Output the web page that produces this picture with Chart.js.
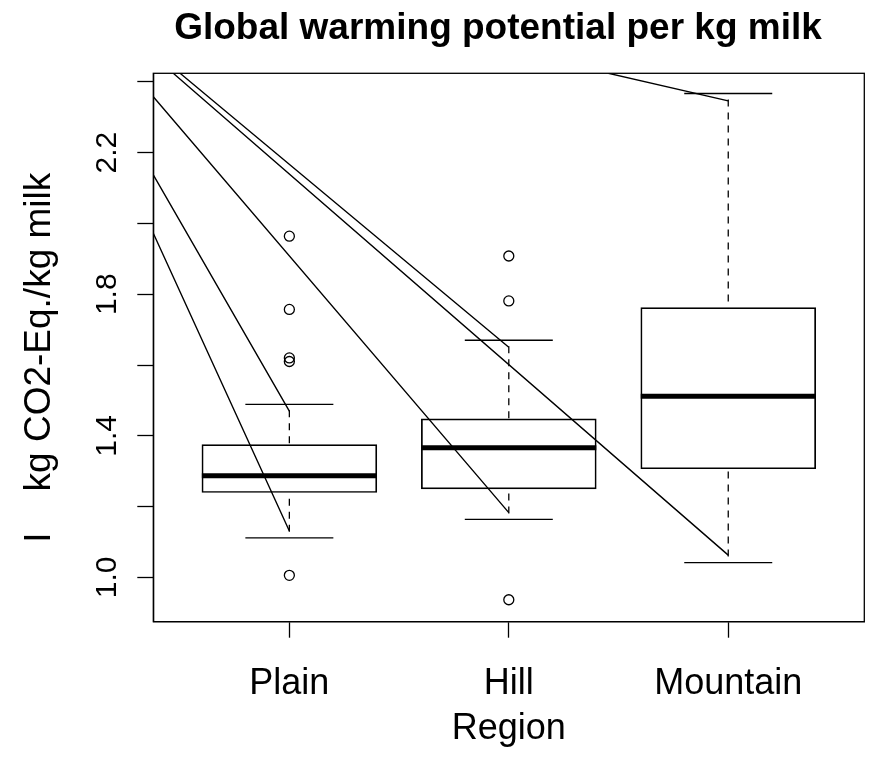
<!DOCTYPE html>
<html>
<head>
<meta charset="utf-8">
<script src="https://cdn.jsdelivr.net/npm/chart.js@4.4.1/dist/chart.umd.min.js"></script>
<style>
html,body{margin:0;padding:0;background:#ffffff;}
canvas{display:block;}
</style>
</head>
<body>
<canvas id="chart" width="869" height="761"></canvas>
<script>
// ---- data ----
const categories = ['Plain', 'Hill', 'Mountain'];
const q1 = [1.239, 1.249, 1.306];
const medians = [1.287, 1.366, 1.512];
const q3 = [1.376, 1.449, 1.763];
const whiskerLow = [1.112, 1.164, 1.042];
const whiskerHigh = [1.489, 1.670, 2.367];
const outliersPlain = [1.964, 1.757, 1.620, 1.610, 1.006];
const outliersHill = [1.908, 1.781, 0.937];
const outliersMountain = [];
const yTickLabels = ['1.0', '', '1.4', '', '1.8', '', '2.2', ''];
const xLimits = [0.38, 3.62];
const yLimits = [0.875, 2.424];
// straight segments overlaid on the plot (start / end in data units)
const segStartX = [0.380, 0.380, 0.380, 0.502, 0.471, 2.454];
const segStartY = [1.972, 2.137, 2.358, 2.424, 2.424, 2.424];
const segEndX = [1, 1, 2, 2, 3, 3];
const segEndY = [1.131, 1.470, 1.183, 1.650, 1.063, 2.346];

const titleText = 'Global warming potential per kg milk';
const xTitleText = 'Region';
const yTitleText = 'I    kg CO2-Eq./kg milk  ';

// ---- build library data from the arrays ----
const boxData = categories.map((c, i) => ({x: i + 1, y: [q1[i], q3[i]]}));
const medianData = categories.map((c, i) => ({x: i + 1, y: medians[i]}));
const capData = [];
categories.forEach((c, i) => {
  capData.push({x: i + 1, y: whiskerHigh[i]});
  capData.push({x: i + 1, y: whiskerLow[i]});
});
const whiskerData = [];
categories.forEach((c, i) => {
  whiskerData.push({x: i + 1, y: whiskerHigh[i]}, {x: i + 1, y: q3[i]}, {x: i + 1, y: null});
  whiskerData.push({x: i + 1, y: whiskerLow[i]}, {x: i + 1, y: q1[i]}, {x: i + 1, y: null});
});
const outlierData = [];
[outliersPlain, outliersHill, outliersMountain].forEach((arr, i) => {
  arr.forEach(v => outlierData.push({x: i + 1, y: v}));
});
const segData = [];
segStartX.forEach((sx, i) => {
  segData.push({x: sx, y: segStartY[i]}, {x: segEndX[i], y: segEndY[i]}, {x: segEndX[i], y: null});
});

const FONT = "'Liberation Sans', Arial, Helvetica, sans-serif";

const bgPlugin = {
  id: 'bg',
  beforeDraw(chart) {
    const ctx = chart.ctx;
    ctx.save();
    ctx.fillStyle = '#ffffff';
    ctx.fillRect(0, 0, chart.width, chart.height);
    ctx.restore();
  }
};
// centre the main title over the same span R used
const titleSpanPlugin = {
  id: 'titleSpan',
  afterLayout(chart) {
    const t = chart.titleBlock;
    if (t) {
      t.left = 131.7;
      t.width = t.right - t.left;
    }
  }
};
const framePlugin = {
  id: 'frame',
  afterDraw(chart) {
    const a = chart.chartArea;
    const ctx = chart.ctx;
    ctx.save();
    ctx.strokeStyle = '#000000';
    ctx.lineWidth = 1.3;
    ctx.strokeRect(a.left, a.top, a.right - a.left, a.bottom - a.top);
    ctx.restore();
  }
};
function noPad(s) {
  s.paddingLeft = 0; s.paddingRight = 0; s.paddingTop = 0; s.paddingBottom = 0;
}

new Chart(document.getElementById('chart'), {
  type: 'bar',
  data: {
    datasets: [
      {
        type: 'line', data: segData, order: 0,
        borderColor: '#000000', borderWidth: 1.4, pointRadius: 0, spanGaps: false, tension: 0, fill: false
      },
      {
        type: 'scatter', data: outlierData, order: 1,
        pointStyle: 'circle', pointRadius: 5, borderColor: '#000000', borderWidth: 1.3,
        backgroundColor: 'rgba(0,0,0,0)'
      },
      {
        type: 'scatter', data: medianData, order: 2,
        pointStyle: 'line', pointRadius: 87.5, borderColor: '#000000', borderWidth: 5
      },
      {
        type: 'scatter', data: capData, order: 3,
        pointStyle: 'line', pointRadius: 44, borderColor: '#000000', borderWidth: 1.3
      },
      {
        type: 'line', data: whiskerData, order: 4,
        borderColor: '#000000', borderWidth: 1.3, borderDash: [7, 6], borderDashOffset: 7,
        pointRadius: 0, spanGaps: false, tension: 0, fill: false
      },
      {
        type: 'bar', data: boxData, order: 5,
        backgroundColor: 'rgba(0,0,0,0)', borderColor: '#000000', borderWidth: 1.7,
        borderSkipped: false, categoryPercentage: 1.0, barPercentage: 0.8
      }
    ]
  },
  options: {
    responsive: false,
    maintainAspectRatio: false,
    devicePixelRatio: 1,
    animation: false,
    events: [],
    layout: {autoPadding: false, padding: {left: 0, right: 4.7, top: 0, bottom: 0}},
    plugins: {
      legend: {display: false},
      tooltip: {enabled: false},
      title: {
        display: true, text: titleText, color: '#000000',
        font: {family: FONT, size: 37, weight: 'bold', lineHeight: 1.2},
        padding: {top: 7, bottom: 21.9}
      }
    },
    scales: {
      x: {
        type: 'linear', min: xLimits[0], max: xLimits[1], offset: false,
        afterFit(s) { s.height = 139.3; noPad(s); },
        grid: {drawOnChartArea: false, drawTicks: true, tickLength: 16, tickColor: '#000000', tickWidth: 1.3, offset: false},
        border: {display: true, color: '#000000', width: 1.3},
        ticks: {
          stepSize: 1, includeBounds: false, autoSkip: false, maxRotation: 0, minRotation: 0,
          color: '#000000', padding: 25, font: {family: FONT, size: 36},
          callback: (v, i) => categories[i]
        },
        title: {
          display: true, text: xTitleText, color: '#000000',
          font: {family: FONT, size: 36, lineHeight: 1.2}, padding: {top: 0, bottom: 10}
        }
      },
      y: {
        type: 'linear', min: yLimits[0], max: yLimits[1],
        afterFit(s) { s.width = 153.3; noPad(s); },
        grid: {drawOnChartArea: false, drawTicks: true, tickLength: 16, tickColor: '#000000', tickWidth: 1.3},
        border: {display: true, color: '#000000', width: 1.3},
        ticks: {
          stepSize: 0.2, includeBounds: false, autoSkip: false, minRotation: 90, maxRotation: 90,
          crossAlign: 'center', color: '#000000', padding: 9, font: {family: FONT, size: 30},
          callback: (v, i) => yTickLabels[i]
        },
        title: {
          display: true, text: yTitleText, color: '#000000',
          font: {family: FONT, size: 37, lineHeight: 1.2}, padding: {top: 17.1, bottom: 0}
        }
      }
    }
  },
  plugins: [bgPlugin, titleSpanPlugin, framePlugin]
});
</script>
</body>
</html>
